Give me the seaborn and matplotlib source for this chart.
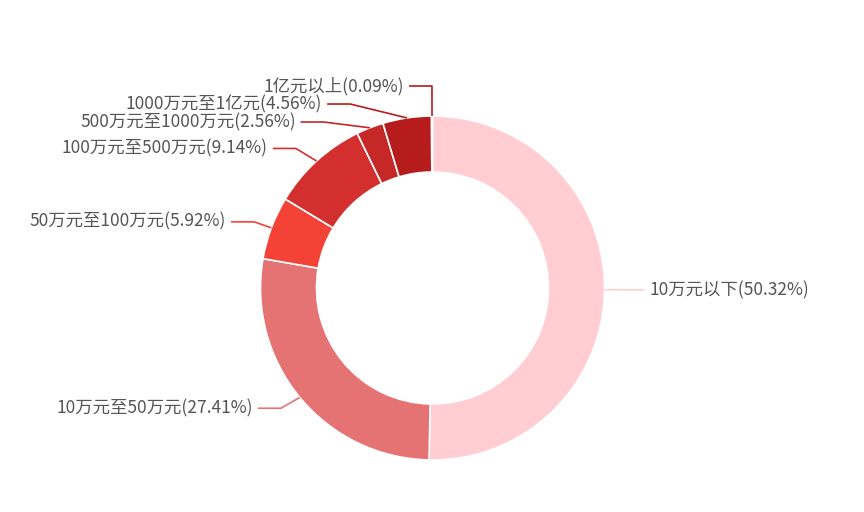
import numpy as np
import matplotlib
matplotlib.use("Agg")
import matplotlib.pyplot as plt
import seaborn as sns

# Share of accounts by asset bracket
categories = ["10万元以下", "10万元至50万元", "50万元至100万元", "100万元至500万元",
              "500万元至1000万元", "1000万元至1亿元", "1亿元以上"]
shares = [50.32, 27.41, 5.92, 9.14, 2.56, 4.56, 0.09]
colors = ["#FFCDD2", "#E57373", "#F44336", "#D32F2F", "#C62828", "#B71C1C", "#B71C1C"]

sns.set_theme(style="white")
plt.rcParams["font.family"] = ["Noto Sans CJK SC", "DejaVu Sans"]

W, H = 864, 512
fig = plt.figure(figsize=(W / 100, H / 100), dpi=100)
ax = fig.add_axes([0, 0, 1, 1])
ax.set_xlim(0, W)
ax.set_ylim(0, H)
ax.set_aspect("equal")
ax.axis("off")

cx, cy = 432.5, H - 288
R = 172
inner = 116
ax.pie(shares, colors=colors, startangle=90, counterclock=False,
       center=(cx, cy), radius=R, normalize=True,
       wedgeprops=dict(width=R - inner, edgecolor="white", linewidth=1.2))
ax.set_xlim(0, W)
ax.set_ylim(0, H)

# leader-line layout
seg1, seg2, gap, line_h = 17, 23, 5, 18
total = sum(shares)
items = []
cum = 0.0
for name, val, col in zip(categories, shares, colors):
    mid = 90 - (cum + val / 2) / total * 360
    cum += val
    a = np.deg2rad(mid)
    ca, sa = np.cos(a), np.sin(a)
    d = 1 if ca >= 0 else -1
    items.append(dict(name=name, val=val, col=col, d=d,
                      anchor=(cx + R * ca, cy + R * sa),
                      xn=cx + (R + seg1) * ca + d * seg2,
                      y=cy + (R + seg1) * sa))

# spread overlapping labels on each side
for side in (1, -1):
    grp = sorted([it for it in items if it["d"] == side], key=lambda t: t["y"])
    clusters = [[it] for it in grp]
    changed = True
    while changed:
        changed = False
        for c in clusters:
            n = len(c)
            m = np.mean([t["y0"] if "y0" in t else t["y"] for t in c])
            for k, t in enumerate(c):
                t.setdefault("y0", t["y"])
                t["y"] = m + (k - (n - 1) / 2) * line_h
        for i in range(len(clusters) - 1):
            if clusters[i + 1][0]["y"] - clusters[i][-1]["y"] < line_h:
                clusters[i] = clusters[i] + clusters[i + 1]
                del clusters[i + 1]
                changed = True
                break

for it in items:
    d = it["d"]
    dy = abs(it["y"] - cy)
    if dy < R + seg1:
        dx = np.sqrt((R + seg1 + seg2) ** 2 - dy ** 2)
    else:
        dx = abs(it["xn"] - cx)
    lx = cx + d * dx
    ex = lx - d * seg2
    ax.plot([it["anchor"][0], ex, lx], [it["anchor"][1], it["y"], it["y"]],
            color=it["col"], lw=1.2, solid_capstyle="butt")
    ax.text(lx + d * gap, it["y"], f"{it['name']}({it['val']:.2f}%)",
            ha="left" if d > 0 else "right", va="center",
            fontsize=12.5, color="#555555")

fig.savefig("out.png", dpi=100, facecolor="white")
